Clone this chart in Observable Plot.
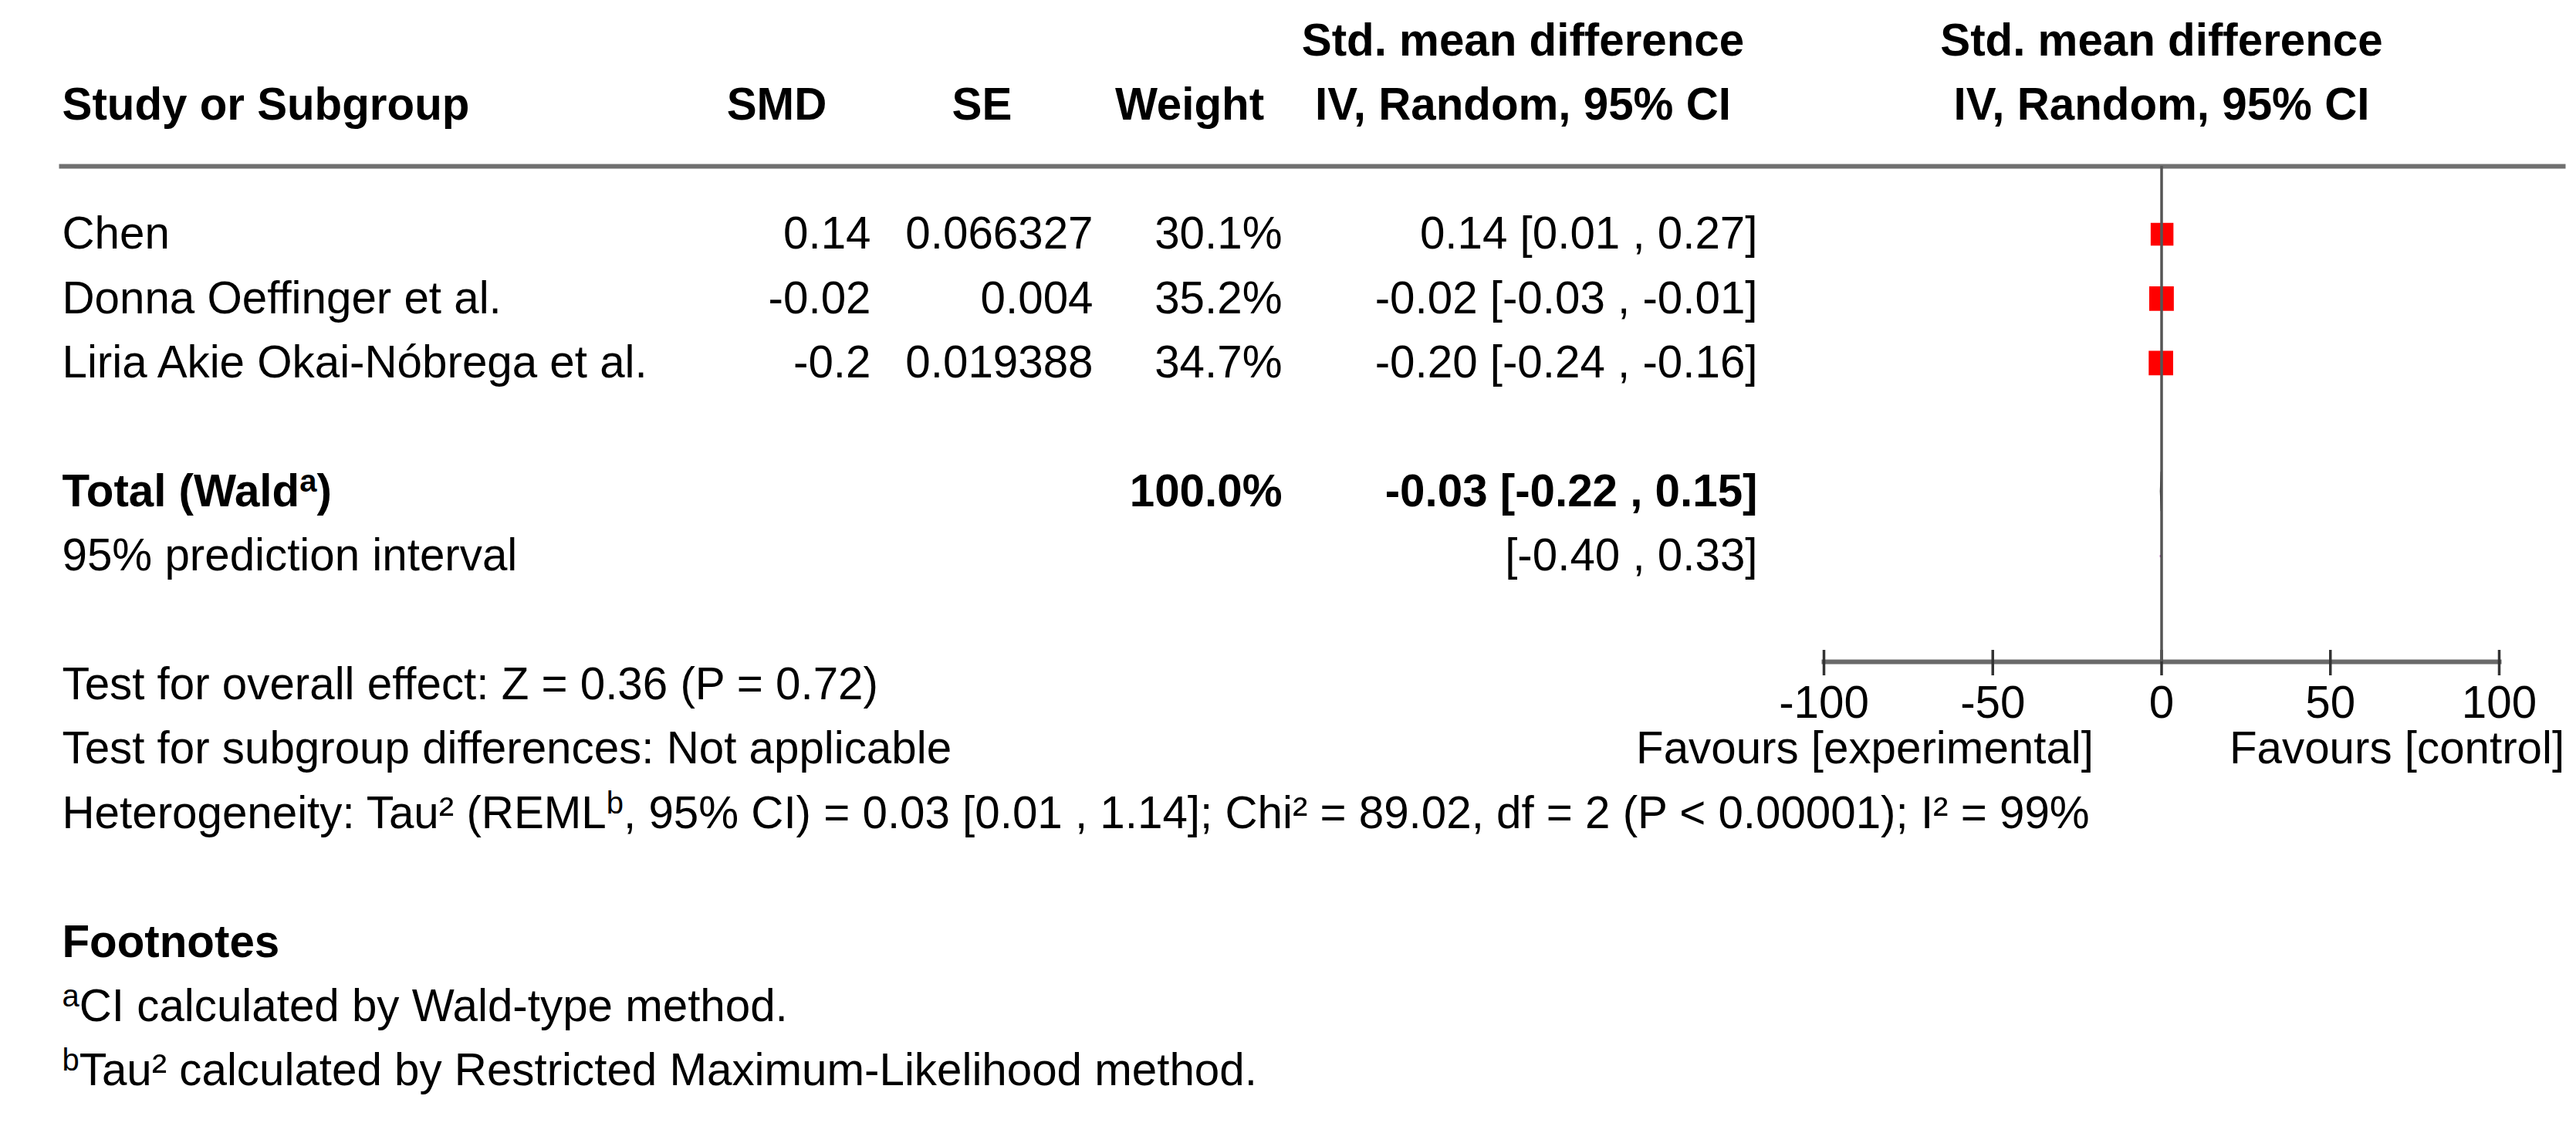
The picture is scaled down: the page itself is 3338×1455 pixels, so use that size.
<!DOCTYPE html>
<html>
<head>
<meta charset="utf-8">
<script src="https://cdn.jsdelivr.net/npm/d3@7"></script>
<script src="https://cdn.jsdelivr.net/npm/@observablehq/plot@0.6"></script>
<style>
html, body { margin: 0; padding: 0; background: #fff; }
#chart { width: 3338px; height: 1455px; }
</style>
</head>
<body>
<div id="chart"></div>
<script>
// ---------------- data ----------------
const studies = ["Chen", "Donna Oeffinger et al.", "Liria Akie Okai-Nóbrega et al."];
const smd = [0.14, -0.02, -0.2];
const se = [0.066327, 0.004, 0.019388];
const weight = [30.1, 35.2, 34.7];
const ciLower = [0.01, -0.03, -0.24];
const ciUpper = [0.27, -0.01, -0.16];

const totalLabel = "Total (Waldᵃ)";
const totalWeight = 100.0;
const totalEstimate = -0.03;
const totalCI = [-0.22, 0.15];
const predictionLabel = "95% prediction interval";
const predictionInterval = [-0.40, 0.33];

const xTicks = [-100, -50, 0, 50, 100];
const favoursLabels = ["Favours [experimental]", "Favours [control]"];
const columnHeaders = ["Study or Subgroup", "SMD", "SE", "Weight"];
const effectHeader = ["Std. mean difference", "IV, Random, 95% CI"];
const testLines = [
  "Test for overall effect: Z = 0.36 (P = 0.72)",
  "Test for subgroup differences: Not applicable",
  "Heterogeneity: Tau² (REMLᵇ, 95% CI) = 0.03 [0.01 , 1.14]; Chi² = 89.02, df = 2 (P < 0.00001); I² = 99%"
];
const footnoteTitle = "Footnotes";
const footnotes = [
  "ᵃCI calculated by Wald-type method.",
  "ᵇTau² calculated by Restricted Maximum-Likelihood method."
];

// ---------------- layout ----------------
const W = 3338, H = 1455, FS = 58.3;
const frameLeft = 2363, frameRight = 3238, frameTop = 215, frameBottom = 857;
const row0 = 303, rowStep = 83.4;
const toRow = px => (px - row0) / rowStep;
const colStudy = 80, colSMD = 1128, colSE = 1416, colWeight = 1661, colCI = 2277;
const hdrSMD = 1006, hdrSE = 1272, hdrWeight = 1541, hdrEffect = 1973;
const lineLeft = 79, lineRight = 3321;
const hdrRow1 = -3, hdrRow2 = -2, totalRow = 4, predRow = 5, testRow0 = 7, favoursRow = 8, footTitleRow = 11, footRow0 = 12;

const f2 = v => v.toFixed(2);
const ciText = (e, lo, hi) => `${f2(e)} [${f2(lo)} , ${f2(hi)}]`;

const studyRows = studies.map((study, i) => ({
  study, smd: smd[i], se: se[i], weight: weight[i], lo: ciLower[i], hi: ciUpper[i], row: i
}));
const totalRows = [{label: totalLabel, weight: totalWeight, est: totalEstimate, lo: totalCI[0], hi: totalCI[1], row: totalRow}];
const predRows = [{label: predictionLabel, lo: predictionInterval[0], hi: predictionInterval[1], row: predRow}];
const diamondH = 0.3;
const diamond = totalRows.flatMap(t => [
  {r: t.row - diamondH, x1: t.est, x2: t.est},
  {r: t.row, x1: t.lo, x2: t.hi},
  {r: t.row + diamondH, x1: t.est, x2: t.est}
]);

const colText = (data, text, px, anchor, y, extra = {}) =>
  Plot.text(data, {text, y, frameAnchor: "left", dx: px - frameLeft, textAnchor: anchor, fontSize: FS, ...extra});

const bold = {fontWeight: "bold"};

const marks = [
  // header
  colText([columnHeaders[0]], d => d, colStudy, "start", () => hdrRow2, bold),
  colText([columnHeaders[1]], d => d, hdrSMD, "middle", () => hdrRow2, bold),
  colText([columnHeaders[2]], d => d, hdrSE, "middle", () => hdrRow2, bold),
  colText([columnHeaders[3]], d => d, hdrWeight, "middle", () => hdrRow2, bold),
  colText([effectHeader[0]], d => d, hdrEffect, "middle", () => hdrRow1, bold),
  colText([effectHeader[1]], d => d, hdrEffect, "middle", () => hdrRow2, bold),
  Plot.text([effectHeader[0]], {text: d => d, x: () => 0, y: () => hdrRow1, fontSize: FS, ...bold}),
  Plot.text([effectHeader[1]], {text: d => d, x: () => 0, y: () => hdrRow2, fontSize: FS, ...bold}),

  // separator line under header
  Plot.frame({anchor: "top", stroke: "#707070", strokeWidth: 6,
    insetLeft: lineLeft - frameLeft, insetRight: frameRight - lineRight}),

  // study rows
  colText(studyRows, "study", colStudy, "start", "row"),
  colText(studyRows, d => String(d.smd), colSMD, "end", "row"),
  colText(studyRows, d => String(d.se), colSE, "end", "row"),
  colText(studyRows, d => d.weight.toFixed(1) + "%", colWeight, "end", "row"),
  colText(studyRows, d => ciText(d.smd, d.lo, d.hi), colCI, "end", "row"),

  // total
  colText(totalRows, "label", colStudy, "start", "row", bold),
  colText(totalRows, d => d.weight.toFixed(1) + "%", colWeight, "end", "row", bold),
  colText(totalRows, d => ciText(d.est, d.lo, d.hi), colCI, "end", "row", bold),

  // prediction interval
  colText(predRows, "label", colStudy, "start", "row"),
  colText(predRows, d => `[${f2(d.lo)} , ${f2(d.hi)}]`, colCI, "end", "row"),

  // tests & heterogeneity
  colText(testLines, d => d, colStudy, "start", (d, i) => testRow0 + i),

  // footnotes
  colText([footnoteTitle], d => d, colStudy, "start", () => footTitleRow, bold),
  colText(footnotes, d => d, colStudy, "start", (d, i) => footRow0 + i),

  // x axis
  Plot.frame({anchor: "bottom", stroke: "#6a6a6a", strokeWidth: 6}),
  Plot.ruleX(xTicks, {x: d => d, insetTop: (frameBottom - frameTop) - 15, insetBottom: -18, stroke: "#333", strokeWidth: 3.5}),
  Plot.axisX({ticks: xTicks, tickSize: 0, tickPadding: 31, tickFormat: d => String(d), fontSize: FS, fontVariant: "normal"}),
  Plot.text(favoursLabels, {text: d => d, x: () => 0, y: () => favoursRow,
    textAnchor: "end", fontSize: FS, filter: (d, i) => i === 0, dx: -88}),
  Plot.text(favoursLabels, {text: d => d, x: () => 0, y: () => favoursRow,
    textAnchor: "start", fontSize: FS, filter: (d, i) => i === 1, dx: 88}),

  // forest marks
  Plot.ruleY(studyRows, {y: "row", x1: "lo", x2: "hi", stroke: "#000", strokeWidth: 3}),
  Plot.dot(studyRows, {x: "smd", y: "row", r: "weight", symbol: "square", fill: "#ff0000", stroke: "none"}),
  Plot.areaX(diamond, {y: "r", x1: "x1", x2: "x2", fill: "#000", stroke: "#000", strokeWidth: 1.5}),
  Plot.ruleY(predRows, {y: "row", x1: "lo", x2: "hi", stroke: "#a020a0", strokeWidth: 3}),
  Plot.ruleX([0], {stroke: "#555", strokeWidth: 3.5})
];

const plot = Plot.plot({
  width: W,
  height: H,
  marginLeft: frameLeft,
  marginRight: W - frameRight,
  marginTop: frameTop,
  marginBottom: H - frameBottom,
  style: {fontFamily: "'Liberation Sans', Arial, sans-serif", fontSize: FS + "px", background: "#fff", color: "#000", overflow: "visible"},
  x: {domain: [xTicks[0], xTicks[xTicks.length - 1]], label: null},
  y: {domain: [toRow(frameTop), toRow(frameBottom)], reverse: true, axis: null},
  r: {range: [0, 18]},
  marks
});

// render superscript letters (ᵃ, ᵇ) as raised tspans
const supMap = {"ᵃ": "a", "ᵇ": "b"};
const NS = "http://www.w3.org/2000/svg";
plot.querySelectorAll("text").forEach(t => {
  const s = t.textContent;
  if (!/[ᵃᵇ]/.test(s) || t.querySelector("tspan")) return;
  while (t.firstChild) t.removeChild(t.firstChild);
  let raised = false;
  for (const part of s.split(/([ᵃᵇ])/)) {
    if (!part) continue;
    const ts = document.createElementNS(NS, "tspan");
    if (supMap[part]) {
      ts.textContent = supMap[part];
      ts.setAttribute("font-size", "40");
      ts.setAttribute("dy", "-19");
      raised = true;
    } else {
      ts.textContent = part;
      if (raised) { ts.setAttribute("dy", "19"); raised = false; }
    }
    t.appendChild(ts);
  }
});

document.getElementById("chart").appendChild(plot);
</script>
</body>
</html>
